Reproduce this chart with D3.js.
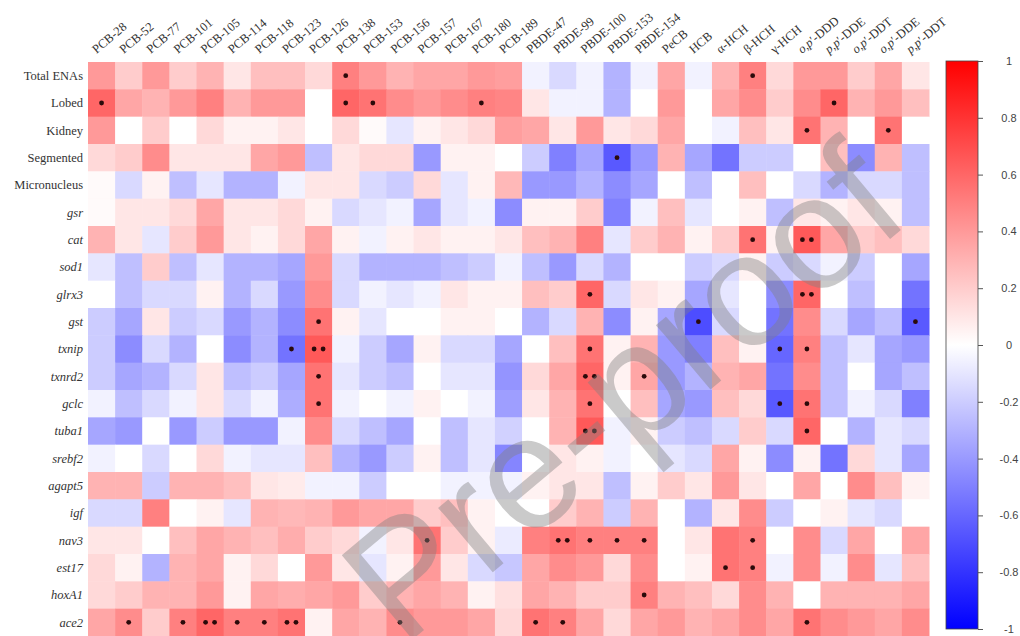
<!DOCTYPE html>
<html>
<head>
<meta charset="utf-8">
<script src="https://cdn.jsdelivr.net/npm/d3@7"></script>
<style>
	body { margin: 0; background: #fff; }
	svg { display: block; }
</style>
</head>
<body>
<div id="chart"></div>
<script>
"use strict"

// compounds (columns)
var compounds = ["PCB-28", "PCB-52", "PCB-77", "PCB-101", "PCB-105", "PCB-114", "PCB-118", "PCB-123",
	"PCB-126", "PCB-138", "PCB-153", "PCB-156", "PCB-157", "PCB-167", "PCB-180", "PCB-189",
	"PBDE-47", "PBDE-99", "PBDE-100", "PBDE-153", "PBDE-154", "PeCB", "HCB",
	"\u03b1-HCH", "\u03b2-HCH", "\u03b3-HCH",
	"o,p\u2032-DDD", "p,p\u2032-DDE", "o,p\u2032-DDT", "o,p\u2032-DDE", "p,p\u2032-DDT"];

// endpoints (rows); genes are drawn italic
var endpoints = ["Total ENAs", "Lobed", "Kidney", "Segmented", "Micronucleus",
	"gsr", "cat", "sod1", "glrx3", "gst", "txnip", "txnrd2", "gclc", "tuba1",
	"srebf2", "agapt5", "igf", "nav3", "est17", "hoxA1", "ace2"];
var nMorph = 5;

// correlation coefficients, one array per row
var rTotalENAs   = [0.4, 0.2, 0.4, 0.2, 0.3, 0.1, 0.25, 0.25, 0.15, 0.5, 0.4, 0.3, 0.35, 0.35, 0.4, 0.38, -0.05, -0.15, -0.05, -0.3, -0.05, 0.35, -0.05, 0.3, 0.5, 0.15, 0.4, 0.4, 0.2, 0.35, 0.1];
var rLobed       = [0.6, 0.35, 0.3, 0.4, 0.5, 0.3, 0.4, 0.4, 0.0, 0.6, 0.55, 0.45, 0.4, 0.45, 0.5, 0.48, 0.1, -0.05, -0.05, -0.3, 0.0, 0.4, 0.0, 0.35, 0.45, 0.2, 0.45, 0.6, 0.3, 0.4, 0.25];
var rKidney      = [0.4, 0.0, 0.2, 0.0, 0.15, 0.05, 0.05, 0.1, 0.0, 0.15, 0.02, -0.1, 0.05, 0.1, 0.15, 0.38, 0.35, 0.1, 0.4, 0.1, 0.15, 0.35, 0.0, -0.05, 0.25, 0.1, 0.55, 0.3, 0.0, 0.55, 0.0];
var rSegmented   = [0.15, 0.2, 0.45, 0.1, 0.1, 0.1, 0.35, 0.4, -0.25, 0.1, 0.15, 0.15, -0.4, 0.05, 0.05, 0.0, -0.2, -0.5, -0.35, -0.65, -0.4, 0.3, -0.35, -0.55, -0.2, -0.2, 0.0, 0.25, -0.45, 0.3, -0.25];
var rMicronuc    = [0.02, -0.15, 0.05, -0.25, -0.1, -0.3, -0.3, -0.05, 0.1, 0.1, -0.15, -0.2, 0.15, -0.1, 0.05, 0.28, -0.4, -0.4, -0.3, -0.45, -0.35, 0.0, -0.25, 0.0, 0.25, 0.0, -0.15, -0.3, -0.15, -0.15, -0.25];
var rGsr         = [0.02, 0.1, 0.1, 0.15, 0.35, 0.1, 0.1, 0.15, 0.05, -0.15, -0.1, -0.05, -0.35, -0.1, -0.05, -0.45, 0.05, 0.05, 0.2, -0.5, -0.05, 0.25, -0.1, 0.0, 0.05, -0.25, 0.1, 0.05, 0.1, 0.05, -0.25];
var rCat         = [0.3, 0.1, -0.1, 0.2, 0.4, 0.1, 0.05, 0.15, 0.35, 0.05, -0.05, 0.05, 0.1, 0.05, 0.05, 0.1, 0.25, 0.3, 0.5, -0.1, 0.2, 0.3, 0.05, 0.2, 0.55, 0.05, 0.65, 0.35, 0.2, 0.25, 0.15];
var rSod1        = [-0.1, -0.25, 0.2, -0.25, -0.1, -0.3, -0.3, -0.35, 0.4, -0.15, -0.3, -0.3, -0.3, -0.25, -0.2, -0.05, -0.25, -0.4, -0.15, -0.3, 0.0, 0.0, -0.2, -0.15, 0.05, -0.2, -0.15, -0.05, -0.2, 0.0, -0.35];
var rGlrx3       = [0.0, -0.25, -0.15, -0.15, 0.05, -0.3, -0.15, -0.4, 0.45, -0.15, -0.05, -0.1, -0.05, 0.1, 0.05, 0.05, 0.25, 0.2, 0.6, -0.15, 0.1, 0.05, -0.35, -0.1, 0.0, -0.45, 0.6, 0.0, -0.25, 0.0, -0.55];
var rGst         = [-0.2, -0.35, 0.1, -0.2, -0.15, -0.4, -0.3, -0.45, 0.55, 0.05, -0.1, 0.0, 0.0, 0.05, 0.05, 0.0, -0.3, -0.15, 0.3, -0.45, 0.05, -0.35, -0.7, -0.15, 0.0, -0.55, 0.45, -0.15, -0.35, -0.25, -0.65];
var rTxnip       = [-0.2, -0.45, -0.15, -0.3, 0.0, -0.45, -0.3, -0.55, 0.65, -0.05, -0.2, -0.35, 0.05, -0.15, -0.15, -0.35, 0.0, 0.25, 0.55, 0.05, 0.3, -0.4, -0.5, 0.25, 0.05, -0.6, 0.5, -0.25, -0.1, -0.35, -0.4];
var rTxnrd2      = [-0.2, -0.35, -0.3, -0.15, 0.1, -0.25, -0.2, -0.35, 0.55, -0.1, -0.2, -0.25, 0.0, -0.1, -0.1, -0.42, 0.15, 0.35, 0.6, 0.05, 0.35, -0.4, -0.3, 0.3, 0.35, -0.55, 0.45, -0.25, 0.0, -0.35, -0.25];
var rGclc        = [-0.05, -0.25, -0.15, -0.05, 0.1, -0.15, -0.05, -0.32, 0.55, -0.05, 0.0, -0.05, 0.05, 0.0, -0.05, -0.38, 0.1, 0.3, 0.55, 0.0, 0.25, -0.35, -0.4, 0.25, 0.15, -0.65, 0.55, -0.25, -0.05, -0.15, -0.5];
var rTuba1       = [-0.35, -0.4, 0.0, -0.4, -0.2, -0.4, -0.4, -0.05, 0.45, -0.15, -0.25, -0.35, 0.0, -0.25, -0.1, -0.18, 0.0, 0.3, 0.65, -0.05, 0.05, -0.2, -0.25, -0.15, 0.2, -0.15, 0.6, 0.0, -0.3, -0.1, -0.15];
var rSrebf2      = [-0.05, 0.0, -0.15, 0.0, 0.15, -0.05, -0.1, -0.1, 0.25, -0.3, -0.4, -0.2, 0.05, -0.25, -0.1, -0.48, 0.0, 0.1, 0.05, -0.05, 0.0, -0.1, -0.15, 0.35, 0.05, -0.45, 0.05, -0.55, 0.15, -0.1, -0.35];
var rAgapt5      = [0.3, 0.3, -0.2, 0.3, 0.3, 0.25, 0.1, 0.08, -0.05, -0.05, -0.2, 0.0, 0.0, -0.05, -0.05, -0.05, 0.05, 0.1, 0.1, -0.25, 0.05, 0.2, 0.1, 0.4, 0.1, 0.0, 0.35, 0.0, 0.45, 0.25, 0.05];
var rIgf         = [-0.15, -0.15, 0.5, 0.0, 0.05, -0.1, 0.3, 0.28, 0.3, 0.4, 0.35, 0.35, 0.2, 0.25, 0.05, 0.0, 0.0, 0.2, 0.3, -0.2, 0.3, 0.0, -0.3, 0.1, 0.45, -0.2, 0.0, 0.05, -0.1, -0.15, 0.0];
var rNav3        = [0.1, 0.1, 0.0, 0.25, 0.35, 0.3, 0.25, 0.32, 0.2, 0.15, -0.05, 0.1, 0.55, 0.2, 0.05, -0.08, 0.5, 0.55, 0.5, 0.5, 0.5, 0.0, 0.1, 0.55, 0.5, 0.0, 0.45, -0.15, 0.35, 0.0, 0.35];
var rEst17       = [0.15, 0.05, -0.3, 0.3, 0.35, 0.05, 0.15, 0.0, 0.4, 0.1, -0.1, 0.05, 0.4, 0.1, -0.15, -0.22, 0.35, 0.45, 0.4, 0.15, 0.45, 0.0, 0.05, 0.55, 0.5, -0.05, 0.45, -0.05, 0.45, -0.1, 0.25];
var rHoxA1       = [0.15, 0.2, 0.3, 0.3, 0.4, 0.05, 0.35, 0.32, 0.35, 0.4, 0.2, 0.3, 0.35, 0.3, 0.05, 0.12, 0.35, 0.3, 0.2, 0.2, 0.5, 0.3, 0.25, 0.15, 0.45, 0.3, 0.0, 0.3, 0.3, 0.3, 0.35];
var rAce2        = [0.35, 0.45, 0.2, 0.5, 0.6, 0.5, 0.5, 0.55, 0.05, 0.35, 0.3, 0.45, 0.4, 0.4, 0.35, 0.15, 0.55, 0.5, 0.35, 0.15, 0.35, 0.4, 0.3, 0.35, 0.45, 0.35, 0.55, 0.45, 0.4, 0.35, 0.45];

var matrix = [rTotalENAs, rLobed, rKidney, rSegmented, rMicronuc, rGsr, rCat, rSod1, rGlrx3, rGst,
	rTxnip, rTxnrd2, rGclc, rTuba1, rSrebf2, rAgapt5, rIgf, rNav3, rEst17, rHoxA1, rAce2];

// significance: [row, column, number of stars]
var stars = [[0, 9, 1], [0, 24, 1],
	[1, 0, 1], [1, 9, 1], [1, 10, 1], [1, 14, 1], [1, 27, 1],
	[2, 26, 1], [2, 29, 1], [3, 19, 1],
	[6, 24, 1], [6, 26, 2], [8, 18, 1], [8, 26, 2],
	[9, 8, 1], [9, 22, 1], [9, 30, 1],
	[10, 7, 1], [10, 8, 2], [10, 18, 1], [10, 25, 1], [10, 26, 1],
	[11, 8, 1], [11, 18, 2], [11, 20, 1],
	[12, 8, 1], [12, 18, 1], [12, 25, 1], [12, 26, 1],
	[13, 18, 2], [13, 26, 1],
	[17, 12, 1], [17, 17, 2], [17, 18, 1], [17, 19, 1], [17, 20, 1], [17, 24, 1],
	[18, 23, 1], [18, 24, 1], [19, 20, 1],
	[20, 1, 1], [20, 3, 1], [20, 4, 2], [20, 5, 1], [20, 6, 1], [20, 7, 2],
	[20, 11, 1], [20, 16, 1], [20, 17, 1], [20, 26, 1]];

var colorTicks = [1, 0.8, 0.6, 0.4, 0.2, 0, -0.2, -0.4, -0.6, -0.8, -1];

//
// layout
//
var W = 1020, H = 636;
var plot = {left: 88, right: 929, top: 62, bottom: 636};
var bar = {x: 946, w: 32, top: 61, bottom: 629};
var serif = "'Liberation Serif', 'Times New Roman', serif";

var svg = d3.select("#chart").append("svg")
	.attr("width", W)
	.attr("height", H)
	;

var x = d3.scaleBand().domain(d3.range(compounds.length)).range([plot.left, plot.right]);
var y = d3.scaleBand().domain(d3.range(endpoints.length)).range([plot.top, plot.bottom]);
var color = d3.scaleLinear().domain([-1, 0, 1]).range(["#0000ff", "#ffffff", "#ff0000"]);

var cells = [];
matrix.forEach(function(row, i) {
	row.forEach(function(v, j) { cells.push({r: i, c: j, v: v}); });
});

svg.append("g").selectAll("rect")
	.data(cells)
	.enter().append("rect")
	.attr("x", function(d) { return x(d.c); })
	.attr("y", function(d) { return y(d.r); })
	.attr("width", x.bandwidth() + 0.5)
	.attr("height", y.bandwidth() + 0.5)
	.attr("fill", function(d) { return color(d.v); })
	;

// significance dots
var dots = [];
stars.forEach(function(s) {
	for (var k = 0; k < s[2]; k++) {
		var off = s[2] == 1 ? 0 : (k == 0 ? -4.5 : 4.5);
		dots.push({r: s[0], c: s[1], off: off});
	}
});
svg.append("g").selectAll("circle")
	.data(dots)
	.enter().append("circle")
	.attr("cx", function(d) { return x(d.c) + x.bandwidth() / 2 + d.off; })
	.attr("cy", function(d) { return y(d.r) + y.bandwidth() / 2; })
	.attr("r", 2.4)
	.attr("fill", "#2b0a0a")
	;

// row labels
svg.append("g").selectAll("text")
	.data(endpoints)
	.enter().append("text")
	.attr("x", plot.left - 5)
	.attr("y", function(d, i) { return y(i) + y.bandwidth() / 2; })
	.attr("dy", "0.35em")
	.attr("text-anchor", "end")
	.style("font-family", serif)
	.style("font-size", "12.5px")
	.style("font-style", function(d, i) { return i < nMorph ? "normal" : "italic"; })
	.attr("fill", "#333")
	.text(function(d) { return d; })
	;

// column labels; isomer prefix (o,p / p,p) in italic
var colLabels = svg.append("g").selectAll("text")
	.data(compounds)
	.enter().append("text")
	.attr("transform", function(d, i) {
		return "translate(" + (x(i) + x.bandwidth() / 2 - 5) + "," + (plot.top - 8) + ") rotate(-40)";
	})
	.attr("text-anchor", "start")
	.style("font-family", serif)
	.style("font-size", "12.5px")
	.attr("fill", "#333")
	;
colLabels.each(function(d) {
	var t = d3.select(this);
	if (d.indexOf(",") > 0) {
		t.append("tspan").style("font-style", "italic").text(d.slice(0, 3));
		t.append("tspan").text(d.slice(3));
	} else {
		t.text(d);
	}
});

// colour bar
var defs = svg.append("defs");
var grad = defs.append("linearGradient").attr("id", "cbar")
	.attr("x1", 0).attr("y1", 1).attr("x2", 0).attr("y2", 0)
	;
[-1, -0.5, 0, 0.5, 1].forEach(function(v) {
	grad.append("stop")
		.attr("offset", ((v + 1) / 2 * 100) + "%")
		.attr("stop-color", color(v))
		;
});
svg.append("rect")
	.attr("x", bar.x)
	.attr("y", bar.top)
	.attr("width", bar.w)
	.attr("height", bar.bottom - bar.top)
	.attr("fill", "url(#cbar)")
	.attr("stroke", "#444")
	.attr("stroke-width", 0.8)
	;
var cy = d3.scaleLinear().domain([-1, 1]).range([bar.bottom, bar.top]);
var axis = d3.axisRight(cy).tickValues(colorTicks).tickSize(5).tickFormat(function(d) { return String(d); });
var gAxis = svg.append("g")
	.attr("transform", "translate(" + (bar.x + bar.w) + ",0)")
	.call(axis)
	;
gAxis.select(".domain").remove();
gAxis.selectAll(".tick line").attr("stroke", "#555");
gAxis.selectAll(".tick text")
	.attr("x", 1009 - bar.x - bar.w)
	.attr("text-anchor", "middle")
	.style("font-family", "'Liberation Sans', Arial, sans-serif")
	.style("font-size", "11px")
	.attr("fill", "#444")
	;

// watermark
svg.append("text")
	.attr("transform", "translate(627,397) rotate(-40)")
	.attr("text-anchor", "middle")
	.attr("dy", "0.3em")
	.style("font-family", "'Liberation Sans', Arial, sans-serif")
	.style("font-size", "160px")
	.attr("fill", "#808080")
	.attr("fill-opacity", 0.42)
	.text("Pre-proof")
	;
</script>
</body>
</html>
